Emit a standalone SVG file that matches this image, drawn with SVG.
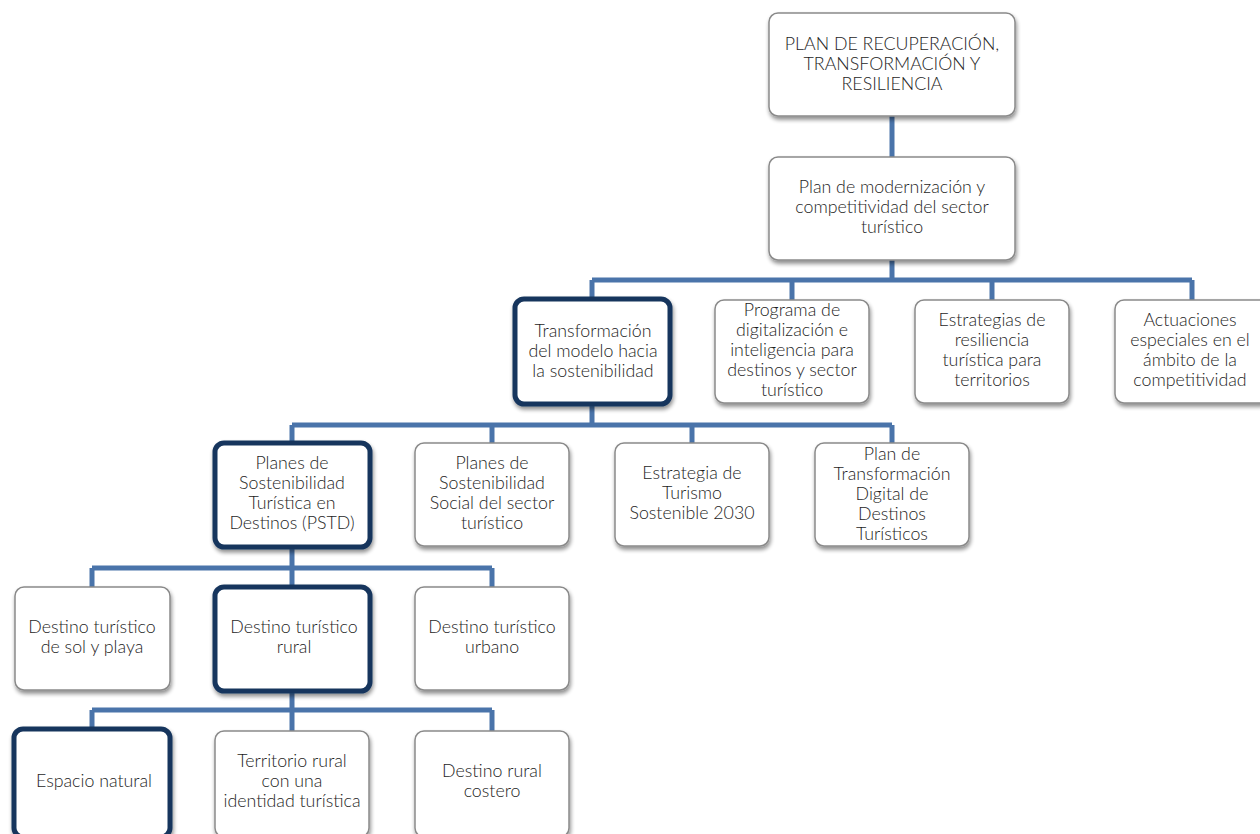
<svg xmlns="http://www.w3.org/2000/svg" width="1260" height="834" viewBox="0 0 1260 834">
<defs>
<filter id="sh" x="-10%" y="-10%" width="125%" height="130%">
<feGaussianBlur in="SourceAlpha" stdDeviation="2"/>
<feOffset dx="1" dy="3" result="b"/>
<feComponentTransfer><feFuncA type="linear" slope="0.45"/></feComponentTransfer>
<feMerge><feMergeNode/><feMergeNode in="SourceGraphic"/></feMerge>
</filter>
</defs>
<style>
.box{fill:#fff;stroke:#8a8a8a;stroke-width:1.5;filter:url(#sh)}
.hl{fill:#fff;stroke:#17365d;stroke-width:5;filter:url(#sh)}
.c{fill:none;stroke:#4a74aa;stroke-width:5}
text{font-family:Lato,"Noto Sans","Liberation Sans",sans-serif;font-weight:300;font-size:17.8px;fill:#1e1e1e;text-anchor:middle}
</style>
<rect width="1260" height="834" fill="#fff"/>
<g id="connectors">
<path class="c" d="M892 116V157M892 260V280M592 280H1192M592 280V300M792 280V300M992 280V300M1192 280V300"/>
<path class="c" d="M592 404V425M292 425H892M292 425V443M492 425V443M692 425V443M892 425V443"/>
<path class="c" d="M292 547V568M92 568H492M92 568V587M292 568V587M492 568V587"/>
<path class="c" d="M292 692V710M92 710H492M92 710V729M292 710V731M492 710V731"/>
</g>
<g id="n1"><rect class="box" x="769" y="13" width="246" height="103" rx="9"/>
<text x="892" y="50">PLAN DE RECUPERACIÓN,</text><text x="892" y="70">TRANSFORMACIÓN Y</text><text x="892" y="90">RESILIENCIA</text></g>
<g id="n2"><rect class="box" x="769" y="157" width="246" height="103" rx="9"/>
<text x="892" y="193">Plan de modernización y</text><text x="892" y="213">competitividad del sector</text><text x="892" y="233">turístico</text></g>
<g id="n3"><rect class="hl" x="515" y="299" width="155" height="105" rx="9"/>
<text x="593" y="337">Transformación</text><text x="593" y="357">del modelo hacia</text><text x="593" y="377">la sostenibilidad</text></g>
<g id="n4"><rect class="box" x="715" y="300" width="154" height="103" rx="9"/>
<text x="792" y="316">Programa de</text><text x="792" y="336">digitalización e</text><text x="792" y="356">inteligencia para</text><text x="792" y="376">destinos y sector</text><text x="792" y="396">turístico</text></g>
<g id="n5"><rect class="box" x="915" y="300" width="154" height="103" rx="9"/>
<text x="992" y="326">Estrategias de</text><text x="992" y="346">resiliencia</text><text x="992" y="366">turística para</text><text x="992" y="386">territorios</text></g>
<g id="n6"><rect class="box" x="1115" y="300" width="154" height="103" rx="9"/>
<text x="1190" y="326">Actuaciones</text><text x="1190" y="346">especiales en el</text><text x="1190" y="366">ámbito de la</text><text x="1190" y="386">competitividad</text></g>
<g id="n7"><rect class="hl" x="215" y="443" width="155" height="104" rx="9"/>
<text x="292" y="469">Planes de</text><text x="292" y="489">Sostenibilidad</text><text x="292" y="509">Turística en</text><text x="292" y="529">Destinos (PSTD)</text></g>
<g id="n8"><rect class="box" x="415" y="443" width="154" height="103" rx="9"/>
<text x="492" y="469">Planes de</text><text x="492" y="489">Sostenibilidad</text><text x="492" y="509">Social del sector</text><text x="492" y="529">turístico</text></g>
<g id="n9"><rect class="box" x="615" y="443" width="154" height="103" rx="9"/>
<text x="692" y="479">Estrategia de</text><text x="692" y="499">Turismo</text><text x="692" y="519">Sostenible 2030</text></g>
<g id="n10"><rect class="box" x="815" y="443" width="154" height="103" rx="9"/>
<text x="892" y="460">Plan de</text><text x="892" y="480">Transformación</text><text x="892" y="500">Digital de</text><text x="892" y="520">Destinos</text><text x="892" y="540">Turísticos</text></g>
<g id="n11"><rect class="box" x="15" y="587" width="155" height="103" rx="9"/>
<text x="92" y="633">Destino turístico</text><text x="92" y="653">de sol y playa</text></g>
<g id="n12"><rect class="hl" x="215" y="587" width="155" height="104" rx="9"/>
<text x="294" y="633">Destino turístico</text><text x="294" y="653">rural</text></g>
<g id="n13"><rect class="box" x="415" y="587" width="154" height="103" rx="9"/>
<text x="492" y="633">Destino turístico</text><text x="492" y="653">urbano</text></g>
<g id="n14"><rect class="hl" x="14" y="729" width="156" height="108" rx="9"/>
<text x="94" y="787">Espacio natural</text></g>
<g id="n15"><rect class="box" x="215" y="731" width="154" height="106" rx="9"/>
<text x="292" y="767">Territorio rural</text><text x="292" y="787">con una</text><text x="292" y="807">identidad turística</text></g>
<g id="n16"><rect class="box" x="415" y="731" width="154" height="106" rx="9"/>
<text x="492" y="777">Destino rural</text><text x="492" y="797">costero</text></g>
</svg>
